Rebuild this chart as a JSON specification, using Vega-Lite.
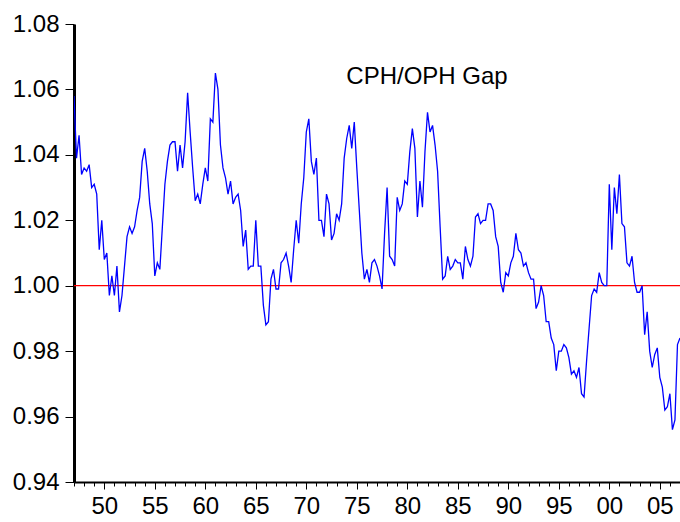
{
  "$schema": "https://vega.github.io/schema/vega-lite/v6.json",
  "width": 606,
  "height": 458,
  "autosize": "none",
  "padding": {"left": 74, "top": 24, "right": 0, "bottom": 40},
  "background": "white",
  "config": {
    "view": {"stroke": null},
    "font": "Liberation Sans",
    "axis": {"labelFont": "Liberation Sans", "labelColor": "black", "domainColor": "black", "tickColor": "black", "grid": false}
  },
  "datasets": {
    "gap": [
{"t":1947,"v":1.058},{"t":1947.25,"v":1.039},{"t":1947.5,"v":1.046},{"t":1947.75,"v":1.034},
{"t":1948,"v":1.036},{"t":1948.25,"v":1.035},{"t":1948.5,"v":1.037},{"t":1948.75,"v":1.030},
{"t":1949,"v":1.031},{"t":1949.25,"v":1.028},{"t":1949.5,"v":1.011},{"t":1949.75,"v":1.020},
{"t":1950,"v":1.008},{"t":1950.25,"v":1.010},{"t":1950.5,"v":0.997},{"t":1950.75,"v":1.003},
{"t":1951,"v":0.997},{"t":1951.25,"v":1.006},{"t":1951.5,"v":0.992},{"t":1951.75,"v":0.997},
{"t":1952,"v":1.006},{"t":1952.25,"v":1.015},{"t":1952.5,"v":1.018},{"t":1952.75,"v":1.016},
{"t":1953,"v":1.018},{"t":1953.25,"v":1.023},{"t":1953.5,"v":1.027},{"t":1953.75,"v":1.038},
{"t":1954,"v":1.042},{"t":1954.25,"v":1.035},{"t":1954.5,"v":1.025},{"t":1954.75,"v":1.019},
{"t":1955,"v":1.003},{"t":1955.25,"v":1.007},{"t":1955.5,"v":1.005},{"t":1955.75,"v":1.018},
{"t":1956,"v":1.031},{"t":1956.25,"v":1.038},{"t":1956.5,"v":1.043},{"t":1956.75,"v":1.044},
{"t":1957,"v":1.044},{"t":1957.25,"v":1.035},{"t":1957.5,"v":1.043},{"t":1957.75,"v":1.036},
{"t":1958,"v":1.044},{"t":1958.25,"v":1.059},{"t":1958.5,"v":1.047},{"t":1958.75,"v":1.036},
{"t":1959,"v":1.026},{"t":1959.25,"v":1.028},{"t":1959.5,"v":1.025},{"t":1959.75,"v":1.031},
{"t":1960,"v":1.036},{"t":1960.25,"v":1.032},{"t":1960.5,"v":1.051},{"t":1960.75,"v":1.050},
{"t":1961,"v":1.065},{"t":1961.25,"v":1.060},{"t":1961.5,"v":1.043},{"t":1961.75,"v":1.036},
{"t":1962,"v":1.033},{"t":1962.25,"v":1.028},{"t":1962.5,"v":1.032},{"t":1962.75,"v":1.025},
{"t":1963,"v":1.027},{"t":1963.25,"v":1.028},{"t":1963.5,"v":1.023},{"t":1963.75,"v":1.012},
{"t":1964,"v":1.017},{"t":1964.25,"v":1.005},{"t":1964.5,"v":1.006},{"t":1964.75,"v":1.006},
{"t":1965,"v":1.020},{"t":1965.25,"v":1.006},{"t":1965.5,"v":1.006},{"t":1965.75,"v":0.994},
{"t":1966,"v":0.988},{"t":1966.25,"v":0.989},{"t":1966.5,"v":1.002},{"t":1966.75,"v":1.005},
{"t":1967,"v":0.999},{"t":1967.25,"v":0.999},{"t":1967.5,"v":1.007},{"t":1967.75,"v":1.008},
{"t":1968,"v":1.010},{"t":1968.25,"v":1.006},{"t":1968.5,"v":1.001},{"t":1968.75,"v":1.011},
{"t":1969,"v":1.020},{"t":1969.25,"v":1.013},{"t":1969.5,"v":1.025},{"t":1969.75,"v":1.033},
{"t":1970,"v":1.047},{"t":1970.25,"v":1.051},{"t":1970.5,"v":1.038},{"t":1970.75,"v":1.034},
{"t":1971,"v":1.039},{"t":1971.25,"v":1.020},{"t":1971.5,"v":1.020},{"t":1971.75,"v":1.015},
{"t":1972,"v":1.028},{"t":1972.25,"v":1.025},{"t":1972.5,"v":1.014},{"t":1972.75,"v":1.016},
{"t":1973,"v":1.022},{"t":1973.25,"v":1.020},{"t":1973.5,"v":1.025},{"t":1973.75,"v":1.039},
{"t":1974,"v":1.045},{"t":1974.25,"v":1.049},{"t":1974.5,"v":1.042},{"t":1974.75,"v":1.050},
{"t":1975,"v":1.036},{"t":1975.25,"v":1.023},{"t":1975.5,"v":1.010},{"t":1975.75,"v":1.002},
{"t":1976,"v":1.005},{"t":1976.25,"v":1.001},{"t":1976.5,"v":1.007},{"t":1976.75,"v":1.008},
{"t":1977,"v":1.006},{"t":1977.25,"v":1.003},{"t":1977.5,"v":0.999},{"t":1977.75,"v":1.016},
{"t":1978,"v":1.030},{"t":1978.25,"v":1.009},{"t":1978.5,"v":1.008},{"t":1978.75,"v":1.006},
{"t":1979,"v":1.027},{"t":1979.25,"v":1.023},{"t":1979.5,"v":1.025},{"t":1979.75,"v":1.032},
{"t":1980,"v":1.031},{"t":1980.25,"v":1.041},{"t":1980.5,"v":1.048},{"t":1980.75,"v":1.042},
{"t":1981,"v":1.021},{"t":1981.25,"v":1.032},{"t":1981.5,"v":1.024},{"t":1981.75,"v":1.041},
{"t":1982,"v":1.053},{"t":1982.25,"v":1.047},{"t":1982.5,"v":1.049},{"t":1982.75,"v":1.043},
{"t":1983,"v":1.035},{"t":1983.25,"v":1.018},{"t":1983.5,"v":1.002},{"t":1983.75,"v":1.003},
{"t":1984,"v":1.009},{"t":1984.25,"v":1.005},{"t":1984.5,"v":1.006},{"t":1984.75,"v":1.008},
{"t":1985,"v":1.007},{"t":1985.25,"v":1.007},{"t":1985.5,"v":1.002},{"t":1985.75,"v":1.012},
{"t":1986,"v":1.008},{"t":1986.25,"v":1.006},{"t":1986.5,"v":1.009},{"t":1986.75,"v":1.021},
{"t":1987,"v":1.022},{"t":1987.25,"v":1.019},{"t":1987.5,"v":1.020},{"t":1987.75,"v":1.020},
{"t":1988,"v":1.025},{"t":1988.25,"v":1.025},{"t":1988.5,"v":1.023},{"t":1988.75,"v":1.015},
{"t":1989,"v":1.012},{"t":1989.25,"v":1.001},{"t":1989.5,"v":0.998},{"t":1989.75,"v":1.004},
{"t":1990,"v":1.003},{"t":1990.25,"v":1.007},{"t":1990.5,"v":1.009},{"t":1990.75,"v":1.016},
{"t":1991,"v":1.011},{"t":1991.25,"v":1.010},{"t":1991.5,"v":1.006},{"t":1991.75,"v":1.007},
{"t":1992,"v":1.004},{"t":1992.25,"v":1.002},{"t":1992.5,"v":1.002},{"t":1992.75,"v":0.993},
{"t":1993,"v":0.995},{"t":1993.25,"v":1.000},{"t":1993.5,"v":0.997},{"t":1993.75,"v":0.989},
{"t":1994,"v":0.989},{"t":1994.25,"v":0.984},{"t":1994.5,"v":0.982},{"t":1994.75,"v":0.974},
{"t":1995,"v":0.980},{"t":1995.25,"v":0.980},{"t":1995.5,"v":0.982},{"t":1995.75,"v":0.981},
{"t":1996,"v":0.978},{"t":1996.25,"v":0.973},{"t":1996.5,"v":0.974},{"t":1996.75,"v":0.972},
{"t":1997,"v":0.975},{"t":1997.25,"v":0.967},{"t":1997.5,"v":0.966},{"t":1997.75,"v":0.977},
{"t":1998,"v":0.987},{"t":1998.25,"v":0.997},{"t":1998.5,"v":0.999},{"t":1998.75,"v":0.998},
{"t":1999,"v":1.004},{"t":1999.25,"v":1.001},{"t":1999.5,"v":1.000},{"t":1999.75,"v":1.000},
{"t":2000,"v":1.031},{"t":2000.25,"v":1.011},{"t":2000.5,"v":1.030},{"t":2000.75,"v":1.022},
{"t":2001,"v":1.034},{"t":2001.25,"v":1.019},{"t":2001.5,"v":1.018},{"t":2001.75,"v":1.007},
{"t":2002,"v":1.006},{"t":2002.25,"v":1.009},{"t":2002.5,"v":1.001},{"t":2002.75,"v":0.998},
{"t":2003,"v":0.998},{"t":2003.25,"v":1.000},{"t":2003.5,"v":0.985},{"t":2003.75,"v":0.992},
{"t":2004,"v":0.980},{"t":2004.25,"v":0.975},{"t":2004.5,"v":0.979},{"t":2004.75,"v":0.981},
{"t":2005,"v":0.972},{"t":2005.25,"v":0.969},{"t":2005.5,"v":0.962},{"t":2005.75,"v":0.963},
{"t":2006,"v":0.967},{"t":2006.25,"v":0.956},{"t":2006.5,"v":0.959},{"t":2006.75,"v":0.982},
{"t":2007,"v":0.984}
    ],
    "ref": [{"v": 1.0}],
    "note": [{"t": 1981.95, "v": 1.0638, "label": "CPH/OPH Gap"}]
  },
  "resolve": {"axis": {"x": "independent"}},
  "layer": [
    {
      "data": {"name": "gap"},
      "mark": {"type": "point", "opacity": 0},
      "encoding": {
        "x": {
          "field": "t", "type": "quantitative",
          "scale": {"domain": [1947, 2007], "nice": false, "zero": false},
          "axis": {
            "orient": "bottom",
            "title": null,
            "values": [1947,1948,1949,1950,1951,1952,1953,1954,1955,1956,1957,1958,1959,1960,1961,1962,1963,1964,1965,1966,1967,1968,1969,1970,1971,1972,1973,1974,1975,1976,1977,1978,1979,1980,1981,1982,1983,1984,1985,1986,1987,1988,1989,1990,1991,1992,1993,1994,1995,1996,1997,1998,1999,2000,2001,2002,2003,2004,2005,2006,2007],
            "labels": false,
            "domain": false,
            "tickSize": 4,
            "tickWidth": 1
          }
        }
      }
    },
    {
      "data": {"name": "ref"},
      "mark": {"type": "rule", "color": "#FF0000", "strokeWidth": 1.2},
      "encoding": {
        "y": {"field": "v", "type": "quantitative", "scale": {"domain": [0.94, 1.08], "nice": false, "zero": false}}
      }
    },
    {
      "data": {"name": "gap"},
      "mark": {"type": "line", "color": "#0000FF", "strokeWidth": 1.3, "clip": true},
      "encoding": {
        "x": {
          "field": "t", "type": "quantitative",
          "scale": {"domain": [1947, 2007], "nice": false, "zero": false},
          "axis": {
            "orient": "bottom",
            "title": null,
            "values": [1950,1955,1960,1965,1970,1975,1980,1985,1990,1995,2000,2005],
            "labelExpr": "substring(toString(datum.value), 2, 4)",
            "tickSize": 7,
            "tickWidth": 1,
            "domainWidth": 2,
            "labelFontSize": 24,
            "labelPadding": 5,
            "labelOverlap": false,
            "labelFlush": false
          }
        },
        "y": {
          "field": "v", "type": "quantitative",
          "scale": {"domain": [0.94, 1.08], "nice": false, "zero": false},
          "axis": {
            "title": null,
            "values": [0.94, 0.96, 0.98, 1.0, 1.02, 1.04, 1.06, 1.08],
            "format": ".2f",
            "tickSize": 9,
            "tickWidth": 1,
            "domainWidth": 3,
            "labelFontSize": 24,
            "labelPadding": 6
          }
        }
      }
    },
    {
      "data": {"name": "note"},
      "mark": {"type": "text", "fontSize": 24, "font": "Liberation Sans", "color": "black", "align": "center", "baseline": "middle"},
      "encoding": {
        "x": {"field": "t", "type": "quantitative", "axis": null},
        "y": {"field": "v", "type": "quantitative"},
        "text": {"field": "label"}
      }
    }
  ]
}
